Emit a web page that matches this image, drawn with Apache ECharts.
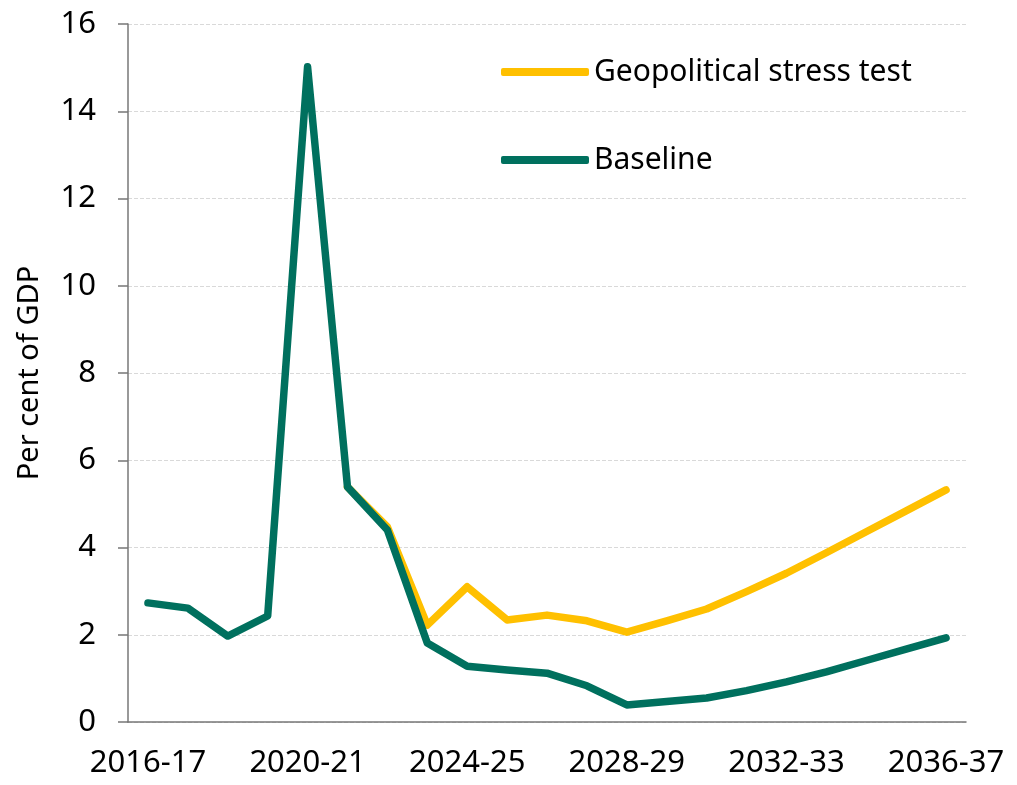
<!DOCTYPE html>
<html>
<head>
<meta charset="utf-8">
<script src="https://cdn.jsdelivr.net/npm/echarts@6/dist/echarts.min.js"></script>
<style>
  html, body { margin: 0; padding: 0; background: #fff; }
  #chart { width: 1017px; height: 785px; }
</style>
</head>
<body>
<div id="chart"></div>
<script>
const years = ["2016-17", "2017-18", "2018-19", "2019-20", "2020-21", "2021-22", "2022-23",
  "2023-24", "2024-25", "2025-26", "2026-27", "2027-28", "2028-29", "2029-30", "2030-31",
  "2031-32", "2032-33", "2033-34", "2034-35", "2035-36", "2036-37"];

const baseline = [2.73, 2.61, 1.97, 2.43, 15.02, 5.39, 4.40, 1.81, 1.28, 1.19, 1.12,
  0.83, 0.39, 0.47, 0.55, 0.72, 0.92, 1.15, 1.41, 1.67, 1.93];

// stress test follows the baseline until 2021-22
const stressTest = [null, null, null, null, null, 5.39, 4.47, 2.22, 3.10, 2.34, 2.45,
  2.32, 2.06, 2.32, 2.59, 2.99, 3.41, 3.88, 4.36, 4.84, 5.32];

const font = "'Noto Sans', sans-serif";

let myChart = echarts.init(document.getElementById("chart"));
let option = {
  animation: false,
  grid: { left: 128, right: 51, top: 24, bottom: 63 },
  legend: {
    orient: "vertical",
    left: 496,
    top: 52,
    itemGap: 58,
    itemWidth: 88,
    itemHeight: 8,
    icon: "roundRect",
    textStyle: { fontFamily: font, fontSize: 30, color: "#000" },
    data: ["Geopolitical stress test", "Baseline"]
  },
  xAxis: {
    type: "category",
    data: years,
    boundaryGap: true,
    axisLine: { lineStyle: { color: "#777", width: 1.5 } },
    axisTick: { length: 10, lineStyle: { color: "#777", width: 1.5 } },
    axisLabel: {
      interval: 3,
      margin: 26,
      fontFamily: font,
      fontSize: 31,
      color: "#000"
    }
  },
  yAxis: {
    type: "value",
    min: 0,
    max: 16,
    interval: 2,
    name: "Per cent of GDP",
    nameLocation: "middle",
    nameGap: 84,
    nameTextStyle: { fontFamily: font, fontSize: 29, color: "#000" },
    axisLine: { show: true, lineStyle: { color: "#777", width: 1.5 } },
    axisTick: { show: true, length: 10, lineStyle: { color: "#777", width: 1.5 } },
    axisLabel: { margin: 32, fontFamily: font, fontSize: 31, color: "#000" },
    splitLine: { lineStyle: { color: "#d9d9d9", type: "dashed" } }
  },
  series: [
    {
      name: "Geopolitical stress test",
      type: "line",
      data: stressTest,
      symbol: "none",
      z: 2,
      itemStyle: { color: "#FFC000" },
      lineStyle: { color: "#FFC000", width: 7.5, cap: "round", join: "round" }
    },
    {
      name: "Baseline",
      type: "line",
      data: baseline,
      symbol: "none",
      z: 3,
      itemStyle: { color: "#00705E" },
      lineStyle: { color: "#00705E", width: 7.5, cap: "round", join: "round" }
    }
  ]
};
myChart.setOption(option);
</script>
</body>
</html>
